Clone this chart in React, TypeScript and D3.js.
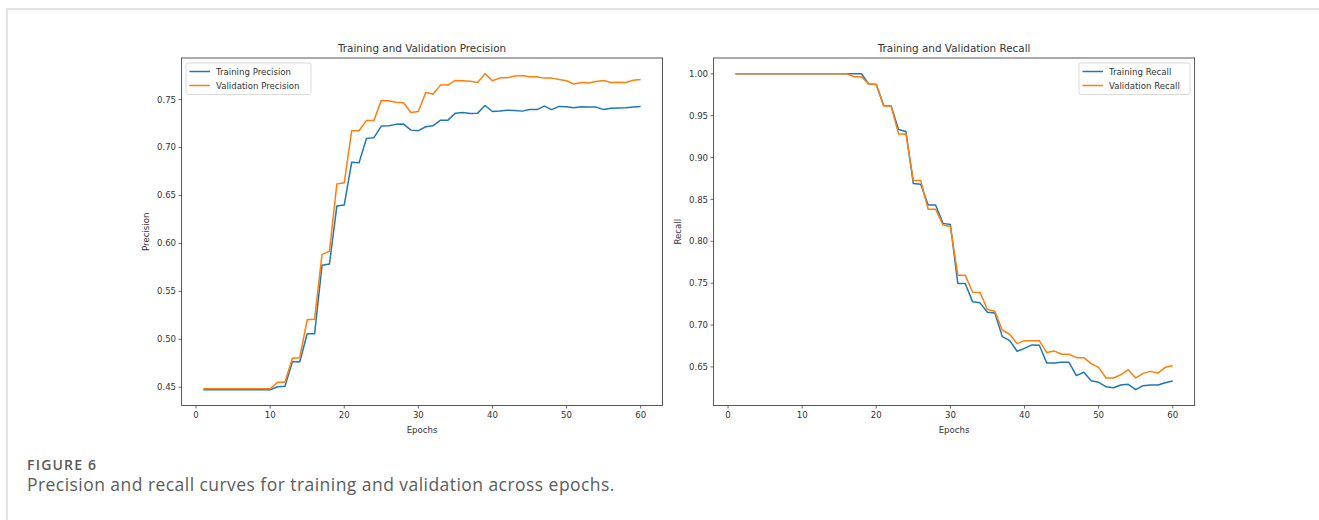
import React from "react";
import * as d3 from "d3";

// Epoch index shared by all series
const epochs: number[] = Array.from({ length: 60 }, (_, i) => i + 1);

const trainPrecision: number[] = [
  0.4475, 0.4475, 0.4475, 0.4475, 0.4475, 0.4475, 0.4475, 0.4475, 0.4475, 0.4475,
  0.4506, 0.451, 0.4767, 0.4767, 0.5058, 0.5058, 0.5771, 0.5784, 0.6389, 0.64,
  0.6844, 0.684, 0.7094, 0.7101, 0.7222, 0.7226, 0.724, 0.7243, 0.718, 0.7174,
  0.7215, 0.7226, 0.7284, 0.7284, 0.7357, 0.7364, 0.7354, 0.7357, 0.7437, 0.7374,
  0.738, 0.7388, 0.7384, 0.7378, 0.7394, 0.7394, 0.743, 0.7394, 0.7427, 0.7423,
  0.7413, 0.7423, 0.742, 0.742, 0.7394, 0.7407, 0.741, 0.7413, 0.742, 0.7427,
];

const valPrecision: number[] = [
  0.4485, 0.4485, 0.4485, 0.4485, 0.4485, 0.4485, 0.4485, 0.4485, 0.4485, 0.4485,
  0.4552, 0.4552, 0.4802, 0.4809, 0.5204, 0.521, 0.5885, 0.5917, 0.6618, 0.6631,
  0.7173, 0.7173, 0.7281, 0.7281, 0.749, 0.7486, 0.747, 0.7466, 0.7364, 0.7375,
  0.7573, 0.7556, 0.7649, 0.7649, 0.7698, 0.7694, 0.769, 0.7677, 0.7767, 0.7694,
  0.7725, 0.7725, 0.7743, 0.775, 0.7736, 0.7736, 0.7722, 0.7722, 0.7708, 0.7694,
  0.766, 0.7677, 0.767, 0.7687, 0.7698, 0.7677, 0.768, 0.7677, 0.77, 0.7708,
];

const trainRecall: number[] = [
  1.0, 1.0, 1.0, 1.0, 1.0, 1.0, 1.0, 1.0, 1.0, 1.0,
  1.0, 1.0, 1.0, 1.0, 1.0, 1.0, 1.0, 1.0, 0.9877, 0.9873,
  0.962, 0.9617, 0.9335, 0.9311, 0.8689, 0.8681, 0.8433, 0.8433, 0.8214, 0.82,
  0.7496, 0.7496, 0.7277, 0.7265, 0.7153, 0.7145, 0.6862, 0.6814, 0.6687, 0.6722,
  0.6763, 0.6759, 0.6547, 0.6547, 0.6555, 0.6555, 0.6396, 0.6436, 0.6336, 0.6316,
  0.6264, 0.6252, 0.6284, 0.6292, 0.6228, 0.6276, 0.6284, 0.6284, 0.6312, 0.6332,
];

const valRecall: number[] = [
  1.0, 1.0, 1.0, 1.0, 1.0, 1.0, 1.0, 1.0, 1.0, 1.0,
  1.0, 1.0, 1.0, 1.0, 1.0, 1.0, 0.9964, 0.9964, 0.9877, 0.9873,
  0.9614, 0.9617, 0.9282, 0.9282, 0.8725, 0.8725, 0.8382, 0.8382, 0.8194, 0.8176,
  0.7596, 0.7596, 0.7392, 0.7388, 0.7185, 0.7165, 0.6938, 0.689, 0.6778, 0.6814,
  0.6814, 0.6814, 0.6671, 0.6691, 0.6651, 0.6651, 0.6611, 0.6611, 0.6539, 0.6495,
  0.6368, 0.6368, 0.6407, 0.6467, 0.6368, 0.6423, 0.6447, 0.6427, 0.6495, 0.6515,
];

const xTicks: number[] = [0, 10, 20, 30, 40, 50, 60];
const precisionTicks: number[] = [0.45, 0.5, 0.55, 0.6, 0.65, 0.7, 0.75];
const recallTicks: number[] = [0.65, 0.7, 0.75, 0.8, 0.85, 0.9, 0.95, 1.0];

const BLUE = "#1f77b4";
const ORANGE = "#ff7f0e";
const FONT = "DejaVu Sans, sans-serif";
const TEXT = "#333";

type PanelProps = {
  left: number;
  right: number;
  top: number;
  bottom: number;
  title: string;
  yLabel: string;
  train: number[];
  val: number[];
  yTicks: number[];
  trainName: string;
  valName: string;
  legendX: number;
  legendW: number;
};

function Panel(p: PanelProps) {
  const [x0, x1] = d3.extent(epochs) as [number, number];
  const xm = (x1 - x0) * 0.05;
  const x = d3.scaleLinear().domain([x0 - xm, x1 + xm]).range([p.left, p.right]);
  const all = p.train.concat(p.val);
  const [y0, y1] = d3.extent(all) as [number, number];
  const ym = (y1 - y0) * 0.05;
  const y = d3.scaleLinear().domain([y0 - ym, y1 + ym]).range([p.bottom, p.top]);

  const line = d3
    .line<number>()
    .x((_, i) => x(epochs[i]))
    .y((d) => y(d));

  const fs = 8.6;
  const cx = (p.left + p.right) / 2;
  const cy = (p.top + p.bottom) / 2;
  const ly = p.top + 5;

  return (
    <g>
      <text x={cx} y={51.5} textAnchor="middle" fontFamily={FONT} fontSize={10.4} fill={TEXT}>
        {p.title}
      </text>

      <path d={line(p.train) || ""} fill="none" stroke={BLUE} strokeWidth={1.5} strokeLinejoin="round" />
      <path d={line(p.val) || ""} fill="none" stroke={ORANGE} strokeWidth={1.5} strokeLinejoin="round" />

      <rect
        x={p.left}
        y={p.top}
        width={p.right - p.left}
        height={p.bottom - p.top}
        fill="none"
        stroke="#444"
        strokeWidth={0.9}
      />

      {xTicks.map((t) => (
        <g key={"x" + t}>
          <line x1={x(t)} x2={x(t)} y1={p.bottom} y2={p.bottom + 3} stroke="#444" strokeWidth={0.8} />
          <text x={x(t)} y={p.bottom + 12.5} textAnchor="middle" fontFamily={FONT} fontSize={fs} fill={TEXT}>
            {t}
          </text>
        </g>
      ))}
      {p.yTicks.map((t) => (
        <g key={"y" + t}>
          <line x1={p.left - 3} x2={p.left} y1={y(t)} y2={y(t)} stroke="#444" strokeWidth={0.8} />
          <text
            x={p.left - 5.5}
            y={y(t) + 3.1}
            textAnchor="end"
            fontFamily={FONT}
            fontSize={fs}
            fill={TEXT}
          >
            {t.toFixed(2)}
          </text>
        </g>
      ))}

      <text x={cx} y={p.bottom + 27.5} textAnchor="middle" fontFamily={FONT} fontSize={fs} fill={TEXT}>
        Epochs
      </text>
      <text
        transform={`translate(${p.left - 33},${cy}) rotate(-90)`}
        textAnchor="middle"
        fontFamily={FONT}
        fontSize={fs}
        fill={TEXT}
      >
        {p.yLabel}
      </text>

      <rect
        x={p.legendX}
        y={ly}
        width={p.legendW}
        height={31.5}
        rx={2}
        fill="#fff"
        fillOpacity={0.8}
        stroke="#d0d0d0"
        strokeWidth={0.8}
      />
      <line x1={p.legendX + 3.5} x2={p.legendX + 24} y1={ly + 8.5} y2={ly + 8.5} stroke={BLUE} strokeWidth={1.5} />
      <text x={p.legendX + 30} y={ly + 11.5} fontFamily={FONT} fontSize={fs} fill={TEXT}>
        {p.trainName}
      </text>
      <line x1={p.legendX + 3.5} x2={p.legendX + 24} y1={ly + 22.5} y2={ly + 22.5} stroke={ORANGE} strokeWidth={1.5} />
      <text x={p.legendX + 30} y={ly + 25.5} fontFamily={FONT} fontSize={fs} fill={TEXT}>
        {p.valName}
      </text>
    </g>
  );
}

export default function App() {
  return (
    <svg
      width={1319}
      height={520}
      viewBox="0 0 1319 520"
      style={{ position: "absolute", left: 0, top: 0, background: "#fff" }}
    >
      <rect x={0} y={0} width={1319} height={520} fill="#fff" />
      <path d="M7,520 V9 H1319" fill="none" stroke="#dcdcdc" strokeWidth={1.6} />

      <Panel
        left={181.6}
        right={662.5}
        top={58}
        bottom={405.5}
        title="Training and Validation Precision"
        yLabel="Precision"
        train={trainPrecision}
        val={valPrecision}
        yTicks={precisionTicks}
        trainName="Training Precision"
        valName="Validation Precision"
        legendX={186}
        legendW={125}
      />
      <Panel
        left={713.6}
        right={1194.6}
        top={58}
        bottom={405.5}
        title="Training and Validation Recall"
        yLabel="Recall"
        train={trainRecall}
        val={valRecall}
        yTicks={recallTicks}
        trainName="Training Recall"
        valName="Validation Recall"
        legendX={1079}
        legendW={111}
      />

      <text
        x={27}
        y={470}
        fontFamily="Open Sans, sans-serif"
        fontSize={14}
        fontWeight={600}
        letterSpacing={1.2}
        fill="#595959"
      >
        FIGURE 6
      </text>
      <text
        x={27}
        y={491}
        fontFamily="Open Sans, sans-serif"
        fontSize={17.5}
        letterSpacing={0.45}
        fill="#5c5c5c"
      >
        Precision and recall curves for training and validation across epochs.
      </text>
    </svg>
  );
}
